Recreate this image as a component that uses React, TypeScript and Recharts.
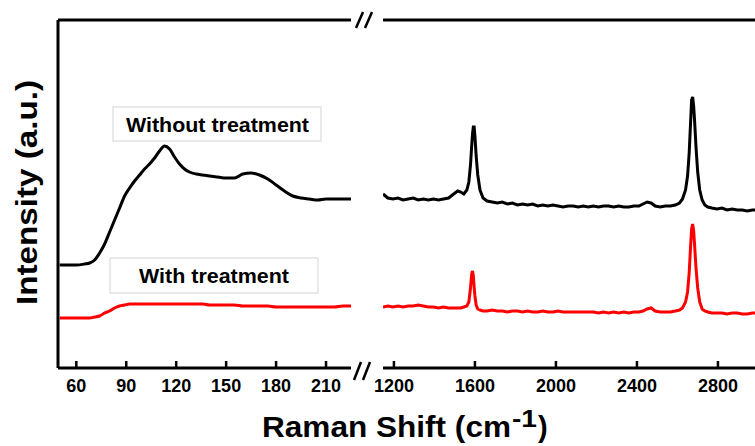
import { Line, LineChart, XAxis, YAxis } from "recharts";

// low-frequency window (cm-1)
const leftShift = [
  50, 55, 60, 65, 68, 71, 74, 77, 80, 83, 86, 89, 92, 95, 98, 101, 104, 107, 110, 113, 116, 119, 122, 125, 128,
  132, 136, 140, 145, 150, 155, 160, 165, 170, 175, 180, 185, 190, 195, 200, 205, 210, 215, 220, 225,
];
const leftWithout = [
  103, 103, 103, 104, 105, 108, 115, 124, 136, 148, 160, 172, 180, 187, 193, 199, 204, 210, 217, 222, 219, 211, 204,
  199, 196, 194, 193, 192, 191, 190, 190, 194, 195, 193, 189, 183, 177, 172, 170, 169, 168, 169, 169, 169, 169,
];
const leftWith = [
  50, 50, 50, 50, 50, 51, 52, 55, 57, 60, 62, 63, 64, 64, 64, 64, 64, 64, 64, 64, 64, 64, 64, 64, 64, 64, 64, 63, 63,
  63, 63, 62, 62, 62, 62, 61, 61, 61, 61, 61, 61, 61, 61, 62, 62,
];

// high-frequency window (cm-1)
const rightShift = [
  1146, 1170, 1195, 1220, 1245, 1270, 1295, 1320, 1345, 1370, 1395, 1420, 1445, 1470, 1495, 1515, 1530, 1545, 1560,
  1570, 1578, 1584, 1588, 1592, 1596, 1600, 1606, 1614, 1625, 1640, 1660, 1685, 1710, 1735, 1760, 1785, 1810, 1835,
  1860, 1885, 1910, 1935, 1960, 1985, 2010, 2035, 2060, 2085, 2110, 2135, 2160, 2185, 2210, 2235, 2260, 2285, 2310,
  2335, 2360, 2385, 2410, 2430, 2450, 2470, 2490, 2515, 2540, 2565, 2590, 2610, 2625, 2640, 2650, 2658, 2665, 2670,
  2675, 2680, 2685, 2692, 2700, 2710, 2722, 2735, 2750, 2770, 2795, 2820, 2845, 2870, 2895, 2920, 2945, 2970, 2983,
];
const rightWithout = [
  174, 170, 169, 170, 168, 169, 170, 168, 169, 168, 169, 168, 169, 170, 174, 177, 176, 174, 178, 186, 203, 222, 234,
  241, 241, 232, 212, 193, 178, 170, 167, 166, 165, 166, 164, 165, 163, 164, 163, 164, 162, 163, 162, 163, 162, 161,
  162, 162, 161, 162, 161, 162, 161, 162, 162, 161, 162, 161, 161, 162, 162, 164, 166, 165, 162, 161, 162, 162, 163,
  165, 169, 178, 192, 215, 246, 268, 271, 262, 246, 220, 196, 178, 168, 163, 161, 160, 159, 160, 158, 159, 158, 158,
  157, 158, 158,
];
const rightWith = [
  61, 62, 61, 62, 61, 62, 62, 63, 62, 61, 61, 60, 61, 60, 60, 60, 60, 61, 62, 66, 80, 94, 97, 92, 81, 72, 63, 59, 58,
  57, 57, 58, 57, 57, 56, 57, 57, 56, 57, 56, 56, 57, 56, 56, 57, 56, 56, 56, 56, 56, 56, 56, 55, 56, 55, 56, 55, 56,
  55, 56, 56, 57, 59, 60, 57, 56, 56, 56, 57, 58, 60, 66, 76, 95, 122, 139, 144, 137, 122, 99, 80, 66, 59, 57, 56, 55,
  55, 55, 54, 55, 55, 54, 54, 55, 55,
];

const leftTicks = [60, 90, 120, 150, 180, 210];
const rightTicks = [1200, 1600, 2000, 2400, 2800];
const seriesNames = ["Without treatment", "With treatment"];

const FONT = '"Liberation Sans", Arial, Helvetica, sans-serif';
const BLACK = "#000000";
const RED = "#ff0000";

const leftRows = leftShift.map((shift, i) => ({ shift, without: leftWithout[i], with: leftWith[i] }));
const rightRows = rightShift.map((shift, i) => ({ shift, without: rightWithout[i], with: rightWith[i] }));

// inward tick mark plus bold label below the axis
function InwardTick(props: any) {
  const { x, y, payload } = props;
  return (
    <g>
      <rect x={x - 1.25} y={y - 7} width={2.5} height={7} fill={BLACK} stroke="none" />
      <text x={x} y={y + 24} textAnchor="middle" fill={BLACK} stroke="none" fontSize={18} fontWeight={700} fontFamily={FONT}>
        {payload.value}
      </text>
    </g>
  );
}

interface PanelProps {
  rows: { shift: number; without: number; with: number }[];
  domain: [number, number];
  ticks: number[];
  left: number;
  width: number;
  marginLeft: number;
  showY: boolean;
  smooth: boolean;
}

function Panel({ rows, domain, ticks, left, width, marginLeft, showY, smooth }: PanelProps) {
  const axisLine = { stroke: BLACK, strokeWidth: 3 };
  return (
    <div style={{ position: "absolute", left, top: 0 }}>
      <LineChart width={width} height={446} data={rows} margin={{ top: 19, right: 0, bottom: 0, left: marginLeft }}>
        <XAxis
          xAxisId="b"
          dataKey="shift"
          type="number"
          domain={domain}
          ticks={ticks}
          interval={0}
          allowDataOverflow
          height={78}
          axisLine={axisLine}
          tickLine={false}
          tickSize={0}
          tickMargin={0}
          tick={<InwardTick />}
        />
        <XAxis
          xAxisId="t"
          orientation="top"
          dataKey="shift"
          type="number"
          domain={domain}
          allowDataOverflow
          height={1}
          tick={false}
          tickLine={false}
          axisLine={axisLine}
        />
        <YAxis
          yAxisId="y"
          type="number"
          domain={[0, 348]}
          allowDataOverflow
          hide={!showY}
          width={1}
          tick={false}
          tickLine={false}
          axisLine={axisLine}
        />
        <Line
          xAxisId="b"
          yAxisId="y"
          type={smooth ? "monotone" : "linear"}
          dataKey="without"
          name={seriesNames[0]}
          stroke={BLACK}
          strokeWidth={3}
          dot={false}
          isAnimationActive={false}
        />
        <Line
          xAxisId="b"
          yAxisId="y"
          type={smooth ? "monotone" : "linear"}
          dataKey="with"
          name={seriesNames[1]}
          stroke={RED}
          strokeWidth={3}
          dot={false}
          isAnimationActive={false}
        />
      </LineChart>
    </div>
  );
}

export default function App() {
  return (
    <div style={{ position: "absolute", left: 0, top: 0, width: 755, height: 446, background: "#fff", overflow: "hidden" }}>
      <Panel rows={leftRows} domain={[49, 225]} ticks={leftTicks} left={0} width={351} marginLeft={57} showY smooth />
      <Panel rows={rightRows} domain={[1146, 2983]} ticks={rightTicks} left={360} width={395} marginLeft={23} showY={false} smooth={false} />
      <svg
        width={755}
        height={446}
        style={{ position: "absolute", left: 0, top: 0, pointerEvents: "none" }}
        fontFamily={FONT}
        fontWeight={700}
      >
        {/* axis break marks */}
        <g stroke={BLACK} strokeWidth={2.5}>
          <line x1={356} y1={28} x2={363} y2={12} />
          <line x1={365} y1={28} x2={372} y2={12} />
          <line x1={354} y1={380} x2={361} y2={362} />
          <line x1={363} y1={380} x2={370} y2={362} />
        </g>
        <rect x={113} y={107} width={208} height={34} fill="#fff" stroke="#d4d4d4" />
        <text x={126} y={132} fontSize={20} textLength={183} lengthAdjust="spacingAndGlyphs">
          {seriesNames[0]}
        </text>
        <rect x={110} y={258} width={208} height={35} fill="#fff" stroke="#d4d4d4" />
        <text x={139} y={283} fontSize={20} textLength={150} lengthAdjust="spacingAndGlyphs">
          {seriesNames[1]}
        </text>
        <text transform="translate(37,305) rotate(-90)" fontSize={29} textLength={225} lengthAdjust="spacingAndGlyphs">
          Intensity (a.u.)
        </text>
        <text x={262} y={437} fontSize={29} textLength={249} lengthAdjust="spacingAndGlyphs">
          Raman Shift (cm
        </text>
        <text x={512} y={427} fontSize={24} textLength={25} lengthAdjust="spacingAndGlyphs">
          -1
        </text>
        <text x={538} y={437} fontSize={29}>
          )
        </text>
      </svg>
    </div>
  );
}
